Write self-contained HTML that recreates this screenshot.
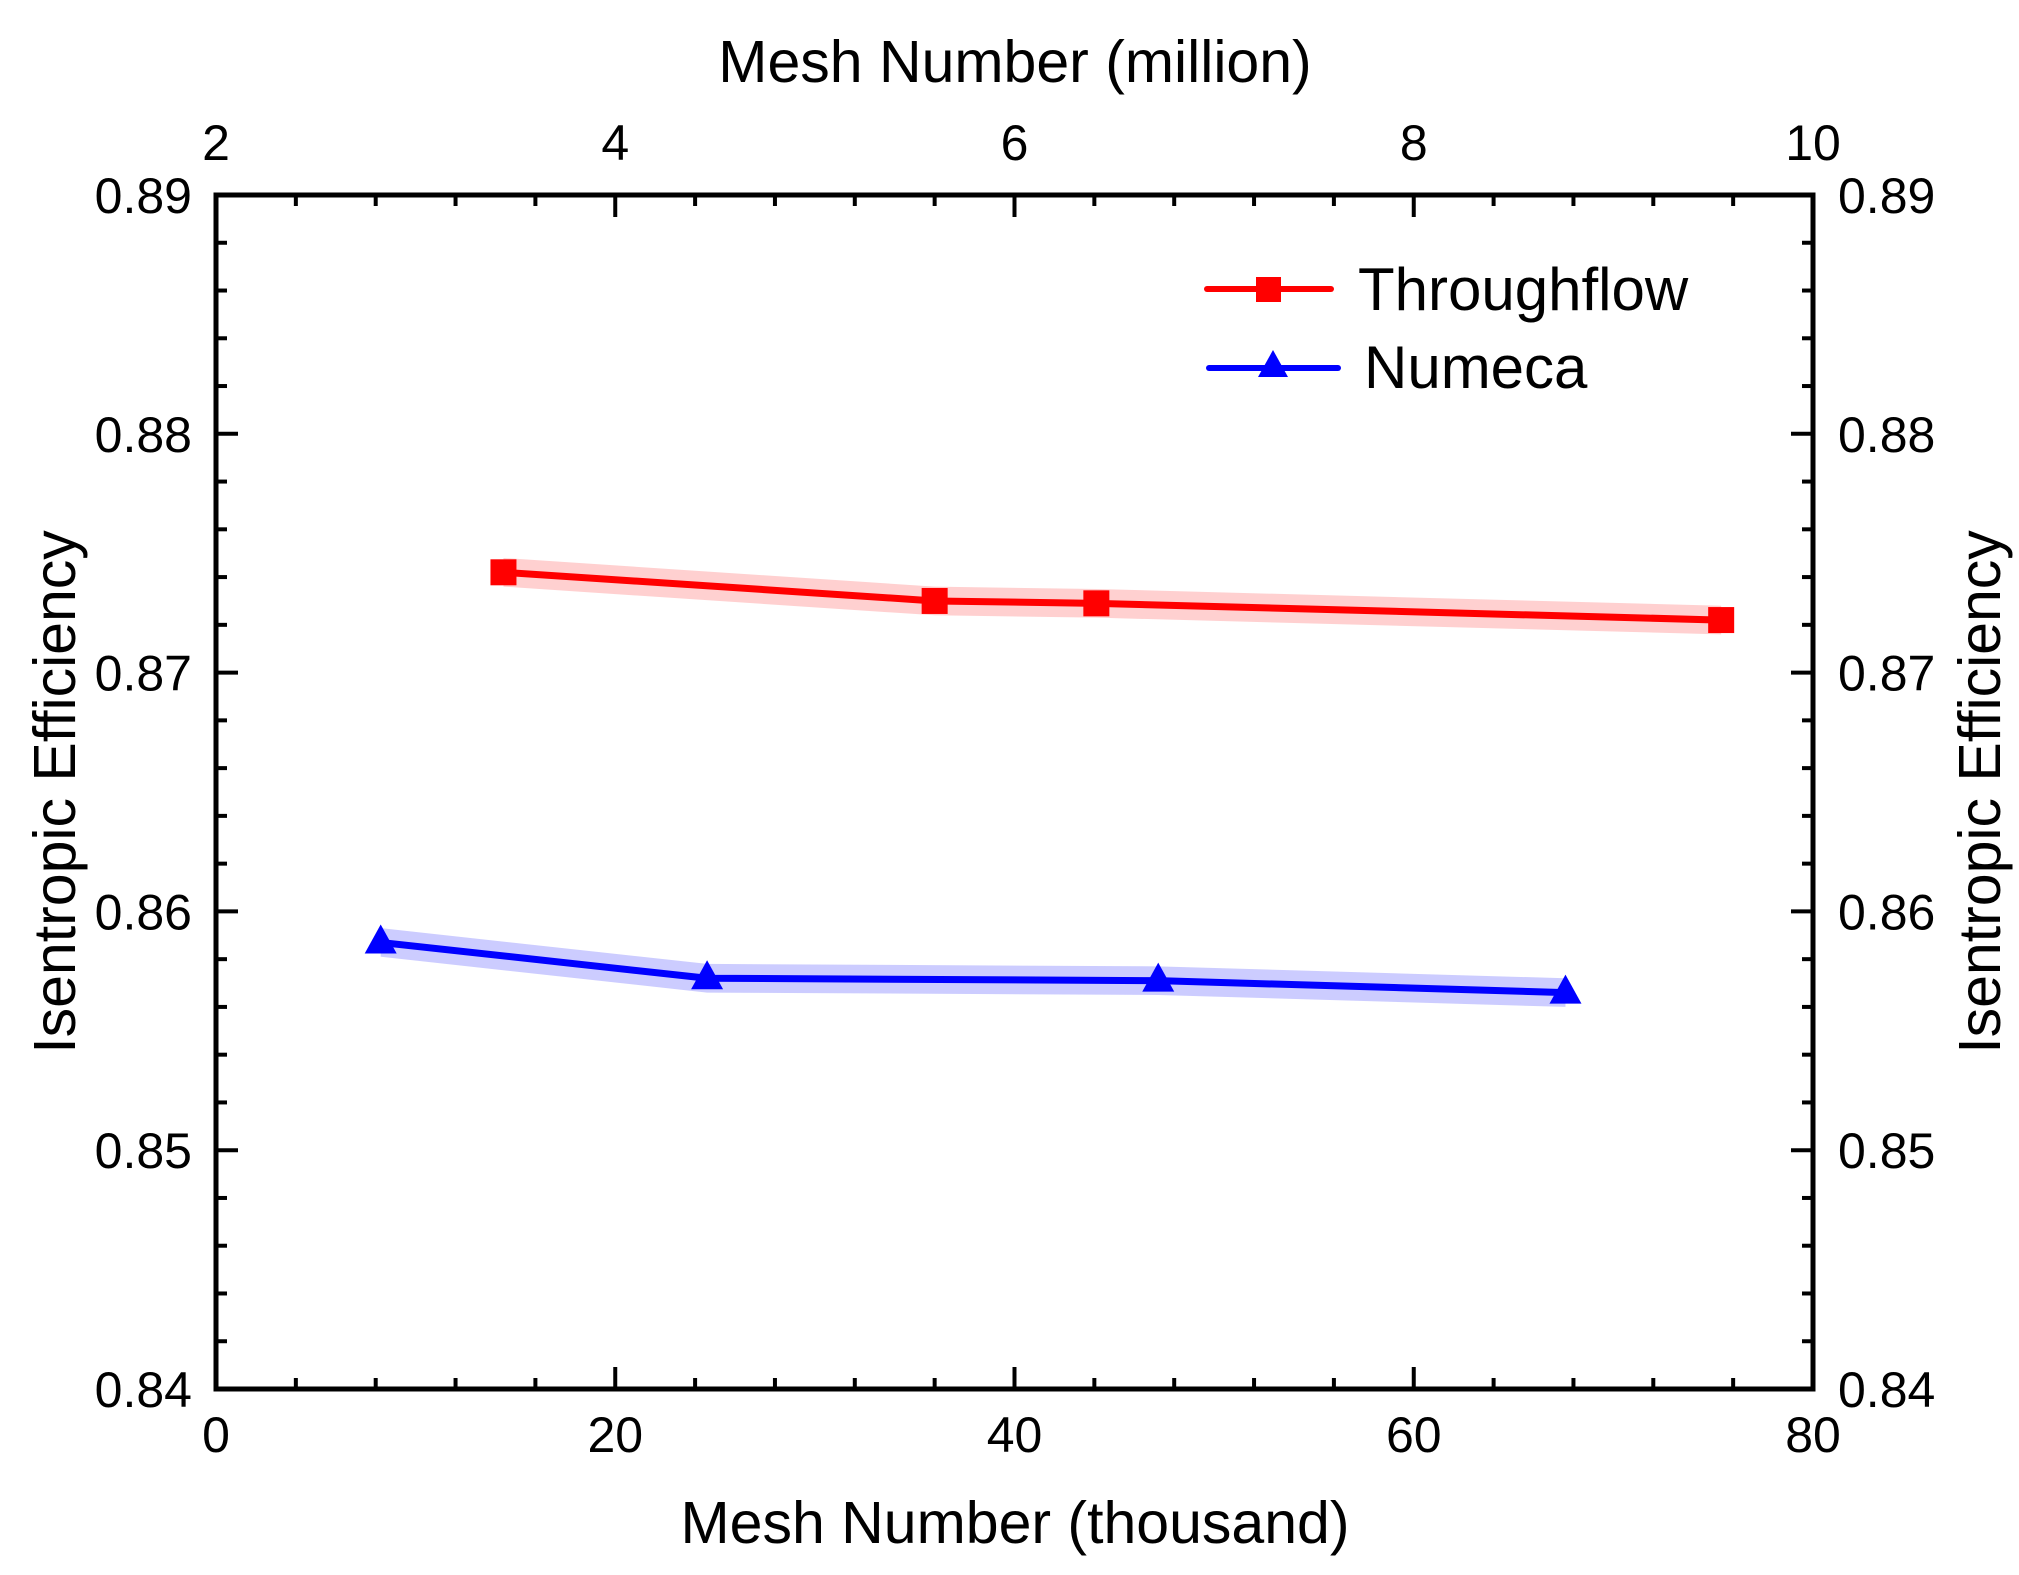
<!DOCTYPE html>
<html><head><meta charset="utf-8"><style>
html,body{margin:0;padding:0;background:#fff;}
svg{display:block;font-family:"Liberation Sans",Arial,sans-serif;}
</style></head><body>
<svg id="chart" width="2019" height="1575" viewBox="0 0 2019 1575" xmlns="http://www.w3.org/2000/svg">
<g id="bands"></g><g id="lines"></g><g id="axes"></g>
<text x="1015" y="82" font-size="59" text-anchor="middle">Mesh Number (million)</text>
<text x="1015" y="1543" font-size="59" text-anchor="middle">Mesh Number (thousand)</text>
<text transform="translate(75,792) rotate(-90)" font-size="59" text-anchor="middle">Isentropic Efficiency</text>
<text transform="translate(2000,792) rotate(-90)" font-size="59" text-anchor="middle">Isentropic Efficiency</text>
<g>
<g>
<line x1="1207" y1="289" x2="1331" y2="289" stroke="#ff0000" stroke-width="6" stroke-linecap="round"/>
<rect x="1256" y="277" width="25" height="25" fill="#ff0000"/>
<text x="1358" y="310" font-size="60">Throughflow</text></g>
<g>
<line x1="1209" y1="368" x2="1338" y2="368" stroke="#0000ff" stroke-width="6" stroke-linecap="round"/>
<polygon points="1273,350 1258,377 1288,377" fill="#0000ff"/>
<text x="1364" y="388" font-size="60">Numeca</text></g>
</g>
</svg>
<script>
const throughX=[14.4,36.0,44.1,75.4];
const throughY=[0.8742,0.8730,0.8729,0.8722];
const numecaX=[8.25,24.6,47.2,67.6];
const numecaY=[0.8587,0.8572,0.8571,0.8566];
const bandHalf=0.0006;
const xTicks=[0,20,40,60,80];
const topTicks=[2,4,6,8,10];
const yTicks=[0.84,0.85,0.86,0.87,0.88,0.89];

const L=216,R=1813,T=195,B=1389;
const xs=v=>L+(v-0)/80*(R-L);
const xt=v=>L+(v-2)/8*(R-L);
const ys=v=>B-(v-0.84)/0.05*(B-T);
const NS="http://www.w3.org/2000/svg";
function mk(tag,parent,attrs){const e=document.createElementNS(NS,tag);for(const k in attrs)e.setAttribute(k,attrs[k]);parent.appendChild(e);return e;}
const bands=document.getElementById('bands'),lines=document.getElementById('lines'),axes=document.getElementById('axes');

function series(X,Y,color,band,name,marker){
  let up=X.map((x,i)=>xs(x)+','+ys(Y[i]+bandHalf)).join(' ');
  let dn=X.slice().reverse().map((x,j)=>{const i=X.length-1-j;return xs(x)+','+ys(Y[i]-bandHalf);}).join(' ');
  const b=mk('polygon',bands,{points:up+' '+dn,fill:band});
  
  
  const l=mk('polyline',lines,{points:X.map((x,i)=>xs(x)+','+ys(Y[i])).join(' '),fill:'none',stroke:color,'stroke-width':7,'stroke-linejoin':'round'});
  
  
  X.forEach((x,i)=>{
    const cx=xs(x),cy=ys(Y[i]);let m;
    if(marker==='sq') m=mk('rect',lines,{x:cx-13,y:cy-13,width:26,height:26,fill:color});
    else m=mk('polygon',lines,{points:`${cx},${cy-18} ${cx-16},${cy+11} ${cx+16},${cy+11}`,fill:color});
    
    
  });
}
series(throughX,throughY,'#ff0000','rgba(255,120,120,0.35)','throughflow','sq');
series(numecaX,numecaY,'#0000ff','rgba(110,110,255,0.35)','numeca','tri');

const frame=mk('rect',axes,{x:L,y:T,width:R-L,height:B-T,fill:'none',stroke:'#000','stroke-width':5});


const tk={stroke:'#000','stroke-width':4};
for(let v=0;v<=80;v+=4){const x=xs(v),len=(v%20===0)?22:11;
  mk('line',axes,Object.assign({x1:x,y1:B,x2:x,y2:B-len},tk));}
for(let k=0;k<=20;k++){const v=2+k*0.4,x=xt(v),len=(k%5===0)?22:11;
  mk('line',axes,Object.assign({x1:x,y1:T,x2:x,y2:T+len},tk));}
for(let k=0;k<=25;k++){const v=0.84+k*0.002,y=ys(v),len=(k%5===0)?22:11;
  mk('line',axes,Object.assign({x1:L,y1:y,x2:L+len,y2:y},tk));
  mk('line',axes,Object.assign({x1:R,y1:y,x2:R-len,y2:y},tk));}
xTicks.forEach(v=>{const t=mk('text',axes,{x:xs(v),y:1452,'font-size':50,'text-anchor':'middle'});t.textContent=v;
  
  });
topTicks.forEach(v=>{const t=mk('text',axes,{x:xt(v),y:160,'font-size':50,'text-anchor':'middle'});t.textContent=v;
  
  });
yTicks.forEach(v=>{const a=mk('text',axes,{x:192,y:ys(v)+18,'font-size':50,'text-anchor':'end'});a.textContent=v.toFixed(2);
  
  
  const b=mk('text',axes,{x:1838,y:ys(v)+18,'font-size':50});b.textContent=v.toFixed(2);
  
  });
</script>
</body></html>
